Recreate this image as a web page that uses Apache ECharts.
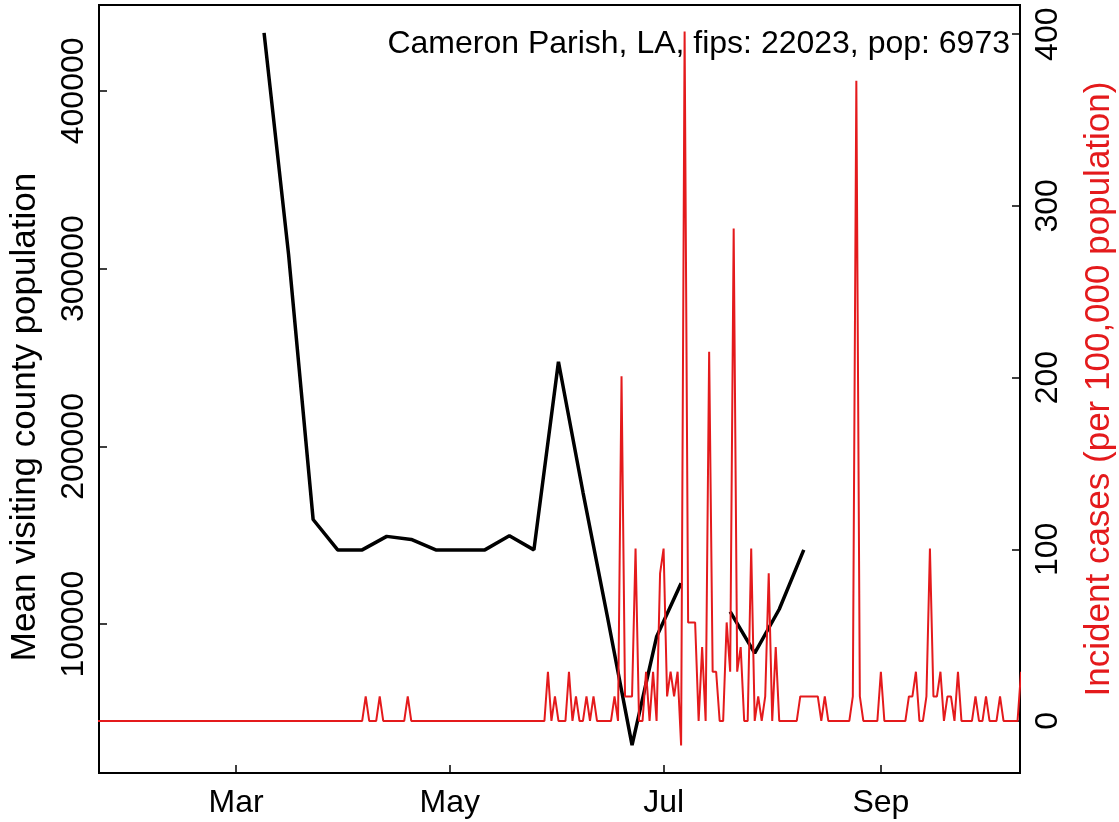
<!DOCTYPE html>
<html><head><meta charset="utf-8">
<script src="https://cdn.jsdelivr.net/npm/echarts@6/dist/echarts.min.js"></script>
<style>html,body{margin:0;padding:0;background:#fff}#c{width:1119px;height:822px}</style>
</head><body><div id="c"></div>
<script>
const titleText = "Cameron Parish, LA, fips: 22023, pop: 6973";
const leftAxisName = "Mean visiting county population";
const rightAxisName = "Incident cases (per 100,000 population)";

// weekly mean visiting population (black line)
const visitDates = ["2020-03-09","2020-03-16","2020-03-23","2020-03-30","2020-04-06","2020-04-13","2020-04-20","2020-04-27",
  "2020-05-04","2020-05-11","2020-05-18","2020-05-25","2020-06-01","2020-06-08","2020-06-15","2020-06-22","2020-06-29",
  "2020-07-06","2020-07-13","2020-07-20","2020-07-27","2020-08-03","2020-08-10"];
const visitValues = [432600,307900,158900,141800,141800,149400,147700,141800,
  141800,141800,149700,141800,247600,174200,103900,32000,92900,
  123000,null,107100,83700,108400,141800];

// daily incident cases per 100,000 (red line), starting 2020-01-21
const caseStart = "2020-01-21";
const casesJan = [0,0,0,0,0,0,0,0,0,0,0];
const casesFeb = [0,0,0,0,0,0,0,0,0,0, 0,0,0,0,0,0,0,0,0,0, 0,0,0,0,0,0,0,0,0];
const casesMar = [0,0,0,0,0,0,0,0,0,0, 0,0,0,0,0,0,0,0,0,0, 0,0,0,0,0,0,0,0,0,0, 0];
const casesApr = [0,0,0,0,0,0,14.3,0,0,0, 14.3,0,0,0,0,0,0,0,14.3,0, 0,0,0,0,0,0,0,0,0,0];
const casesMay = [0,0,0,0,0,0,0,0,0,0, 0,0,0,0,0,0,0,0,0,0, 0,0,0,0,0,0,0,0,28.7,0, 14.3];
const casesJun = [0,0,0,28.7,0,14.3,0,0,14.3,0, 14.3,0,0,0,0,0,14.3,0,200.8,14.3, 14.3,14.3,100.4,0,0,28.7,0,28.7,0,86.0];
const casesJul = [100.4,14.3,28.7,14.3,28.7,-14.3,401.5,57.4,57.4,57.4, 0,43.0,0,215.1,28.7,28.7,0,0,57.4,28.7,
  286.8,28.7,43.0,0,0,100.4,0,14.3,0,14.3, 86.0];
const casesAug = [0,43.0,0,0,0,0,0,0,14.3,14.3, 14.3,14.3,14.3,14.3,0,14.3,0,0,0,0, 0,0,0,14.3,372.9,14.3,0,0,0,0, 0];
const casesSep = [28.7,0,0,0,0,0,0,0,14.3,14.3, 28.7,0,0,14.3,100.4,14.3,14.3,28.7,0,14.3, 14.3,0,28.7,0,0,0,0,14.3,0,0];
const casesOct = [14.3,0,0,0,14.3,0,0,0,0,0, 28.7];

const xTickDates = ["2020-03-01","2020-05-01","2020-07-01","2020-09-01"];
const xTickLabels = ["Mar","May","Jul","Sep"];
const leftTicks = [100000,200000,300000,400000];
const rightTicks = [0,100,200,300,400];

function dayNum(s){ const p=s.split('-').map(Number); return (Date.UTC(p[0],p[1]-1,p[2])-Date.UTC(2020,0,1))/864e5; }

const caseValues = [].concat(casesJan,casesFeb,casesMar,casesApr,casesMay,casesJun,casesJul,casesAug,casesSep,casesOct);
const start = dayNum(caseStart);
const caseData = caseValues.map((v,i)=>[start+i, v]);
const visitData = visitDates.map((d,i)=>[dayNum(d), visitValues[i]]);
const xTickDays = xTickDates.map(dayNum);

const FONT = "Liberation Sans, Arial, Helvetica, sans-serif";
const FS = 32;
const NFS = 35;

const chart = echarts.init(document.getElementById('c'), null, {renderer:'canvas'});
chart.setOption({
  animation:false,
  backgroundColor:'#fff',
  textStyle:{fontFamily:FONT},
  title:{text:titleText, right:104, top:23, textStyle:{fontSize:FS, fontWeight:'normal', color:'#000', fontFamily:FONT}},
  grid:{left:99, right:99, top:5, bottom:49, show:true, borderColor:'#000', borderWidth:2, containLabel:false, outerBoundsMode:'none'},
  xAxis:{type:'value', min:20.9, max:283.7,
    axisLine:{show:true, onZero:false, lineStyle:{color:'#000', width:2}},
    axisTick:{show:true, inside:true, length:8, customValues:xTickDays, lineStyle:{color:'#000', width:1.5}},
    axisLabel:{show:true, customValues:xTickDays, margin:14, fontSize:FS, color:'#000', fontFamily:FONT,
      formatter:function(v){ const i = xTickDays.findIndex(t=>Math.abs(t-v)<0.01); return i>=0?xTickLabels[i]:''; }},
    splitLine:{show:false}},
  yAxis:[
    {type:'value', position:'left', min:16300, max:448300,
      axisLine:{show:true, onZero:false, lineStyle:{color:'#000', width:2}},
      axisTick:{show:true, inside:true, length:8, customValues:leftTicks, lineStyle:{color:'#000', width:1.5}},
      axisLabel:{show:true, customValues:leftTicks, rotate:90, margin:9, fontSize:FS, color:'#000', fontFamily:FONT,
        formatter:function(v){ return String(v); }},
      splitLine:{show:false},
      name:leftAxisName, nameLocation:'middle', nameGap:56, nameRotate:90,
      nameTextStyle:{fontSize:NFS, color:'#000', fontFamily:FONT, padding:[0,56,0,0]}},
    {type:'value', position:'right', min:-30.3, max:417,
      axisLine:{show:true, onZero:false, lineStyle:{color:'#000', width:2}},
      axisTick:{show:true, inside:true, length:8, customValues:rightTicks, lineStyle:{color:'#000', width:1.5}},
      axisLabel:{show:true, customValues:rightTicks, rotate:90, margin:12, fontSize:FS, color:'#000', fontFamily:FONT,
        formatter:function(v){ return String(v); }},
      splitLine:{show:false},
      name:rightAxisName, nameLocation:'middle', nameGap:62, nameRotate:90,
      nameTextStyle:{fontSize:NFS, color:'#e41a1c', fontFamily:FONT}}
  ],
  series:[
    {type:'line', name:'visits', yAxisIndex:0, data:visitData, showSymbol:false, connectNulls:false, clip:true,
      lineStyle:{color:'#000', width:3.5}, itemStyle:{color:'#000'}},
    {type:'line', name:'cases', yAxisIndex:1, data:caseData, showSymbol:false, clip:true,
      lineStyle:{color:'#e41a1c', width:2}, itemStyle:{color:'#e41a1c'}}
  ]
});
</script></body></html>
